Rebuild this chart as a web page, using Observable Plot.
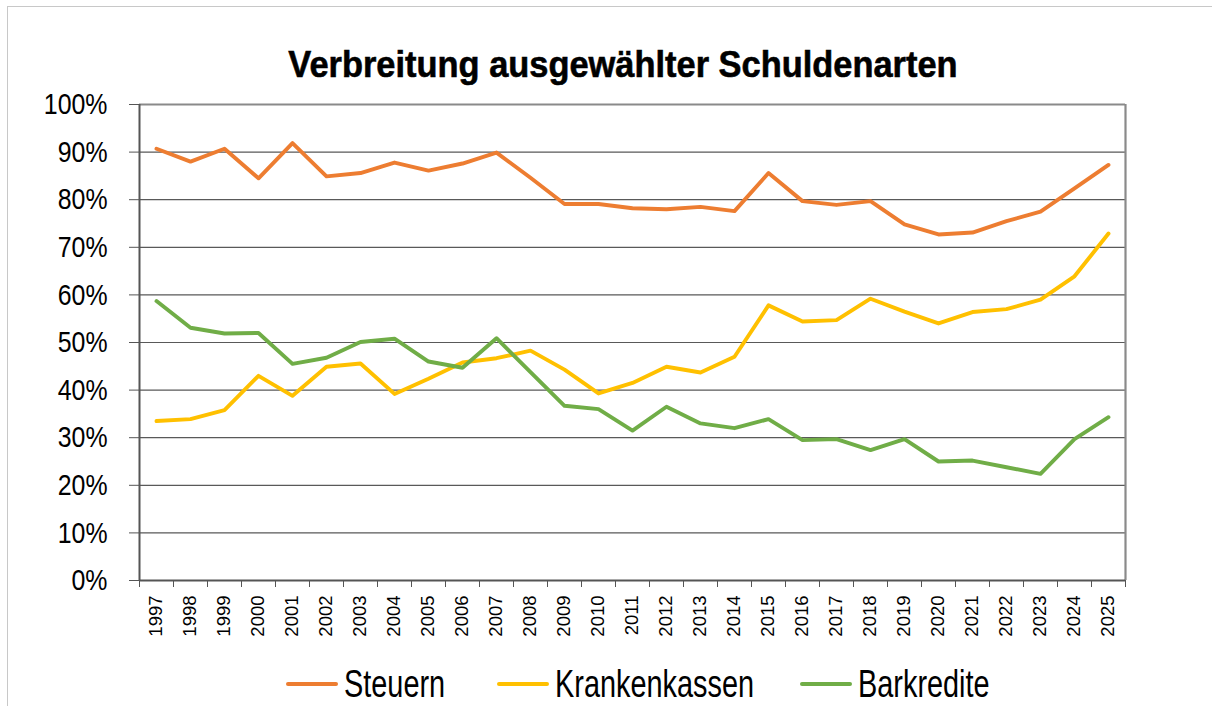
<!DOCTYPE html>
<html>
<head>
<meta charset="utf-8">
<script src="https://cdn.jsdelivr.net/npm/d3@7"></script>
<script src="https://cdn.jsdelivr.net/npm/@observablehq/plot@0.6"></script>
<style>
  html, body { margin: 0; padding: 0; background: #fff; }
  #wrap { position: relative; width: 1212px; height: 706px; overflow: hidden; background: #fff;
    font-family: "Liberation Sans", Arial, sans-serif; }
  #frame { position: absolute; left: 7px; top: 6px; width: 1300px; height: 800px; border-left: 1.5px solid #c8c8c8; border-top: 1.5px solid #c8c8c8; }
  #title { position: absolute; left: 623px; top: 40px; white-space: nowrap; font-weight: bold; font-size: 37px; line-height: 50px; color: #000;
    -webkit-text-stroke: 0.6px #000; transform: translateX(-50%) scaleX(0.93); transform-origin: center; }
  #chart { position: absolute; left: 0; top: 70px; }
  #legend { position: absolute; left: 0; top: 656px; width: 1212px; height: 50px; }
  .swatch { position: absolute; top: 26px; width: 52px; height: 4px; border-radius: 2px; }
  .lab { position: absolute; top: 0; font-size: 38px; line-height: 56px; white-space: nowrap; color: #000; transform: scaleX(0.76); transform-origin: left center; }
</style>
</head>
<body>
<div id="wrap">
  <div id="frame"></div>
  <div id="title">Verbreitung ausgewählter Schuldenarten</div>
  <div id="chart"></div>
  <div id="legend"></div>
</div>
<script>
const years = d3.range(1997, 2026);
const seriesNames = ["Steuern", "Krankenkassen", "Barkredite"];
const colors = ["#ED7D31", "#FFC000", "#70AD47"];
const steuern = [90.7, 88.0, 90.7, 84.5, 91.9, 84.9, 85.6, 87.8, 86.1, 87.6, 89.9, 84.6, 79.1, 79.1, 78.2, 78.0, 78.5, 77.6, 85.6, 79.7, 78.9, 79.7, 74.8, 72.7, 73.1, 75.5, 77.5, 82.4, 87.3];
const krankenkassen = [33.5, 33.9, 35.8, 43.0, 38.8, 44.9, 45.6, 39.2, 42.4, 45.8, 46.7, 48.3, 44.3, 39.3, 41.5, 44.9, 43.7, 47.0, 57.8, 54.4, 54.7, 59.2, 56.5, 54.0, 56.4, 57.0, 59.0, 63.9, 72.9];
const barkredite = [58.7, 53.1, 51.9, 52.0, 45.5, 46.8, 50.1, 50.8, 46.0, 44.7, 50.9, 43.8, 36.7, 36.0, 31.5, 36.5, 33.0, 32.0, 33.9, 29.5, 29.7, 27.4, 29.7, 25.0, 25.2, 23.8, 22.4, 29.7, 34.3];
const yTicks = d3.range(0, 101, 10);

const allSeries = [steuern, krankenkassen, barkredite];
const data = [];
allSeries.forEach((vals, i) => vals.forEach((v, j) => data.push({year: years[j], value: v / 100, series: seriesNames[i]})));
const boundaries = d3.range(1996.5, 2026, 1);

const chart = Plot.plot({
  width: 1212,
  height: 580,
  marginTop: 34,
  marginBottom: 70,
  marginLeft: 139,
  marginRight: 87,
  style: {fontFamily: "'Liberation Sans', Arial, sans-serif", color: "#000", background: "transparent", overflow: "visible"},
  x: {type: "linear", domain: [1996.5, 2025.5]},
  y: {domain: [0, 1]},
  color: {domain: seriesNames, range: colors},
  marks: [
    Plot.gridY(yTicks.map(d => d / 100), {stroke: "#595959", strokeOpacity: 1, strokeWidth: 1.2}),
    Plot.ruleY([1], {stroke: "#8a8a8a", strokeWidth: 2.2}),
    Plot.ruleX([2025.5], {stroke: "#8a8a8a", strokeWidth: 2.2}),
    Plot.line(data, {x: "year", y: "value", z: "series", stroke: "series", strokeWidth: 3.9, strokeLinejoin: "round", strokeLinecap: "round"}),
    Plot.axisY({ticks: yTicks.map(d => d / 100), tickFormat: d3.format(".0%"), tickSize: 10, tickPadding: 22, fontSize: 30, stroke: "#555", label: null}),
    Plot.ruleX([1996.5], {stroke: "#555", strokeWidth: 2}),
    Plot.ruleY([0], {stroke: "#555", strokeWidth: 2}),
    Plot.axisX({ticks: boundaries, tickFormat: () => "", tickSize: 7, stroke: "#555", label: null}),
    Plot.axisX({ticks: years, tickFormat: d => String(d), tickSize: 0, tickPadding: 15, tickRotate: -90, fontSize: 18.5, label: null})
  ]
});
document.getElementById("chart").appendChild(chart);

// condense y-axis tick labels horizontally to mimic a condensed typeface
chart.querySelectorAll('g[aria-label="y-axis tick label"] text').forEach(t => {
  const w = t.getComputedTextLength();
  t.setAttribute("textLength", (w * 0.83).toFixed(1));
  t.setAttribute("lengthAdjust", "spacingAndGlyphs");
});

const legend = document.getElementById("legend");
const swatchX = [286, 497, 800];
seriesNames.forEach((name, i) => {
  const sw = document.createElement("div");
  sw.className = "swatch";
  sw.style.left = swatchX[i] + "px";
  sw.style.background = colors[i];
  const label = document.createElement("div");
  label.className = "lab";
  label.style.left = (swatchX[i] + 58) + "px";
  label.textContent = name;
  legend.appendChild(sw);
  legend.appendChild(label);
});
</script>
</body>
</html>
